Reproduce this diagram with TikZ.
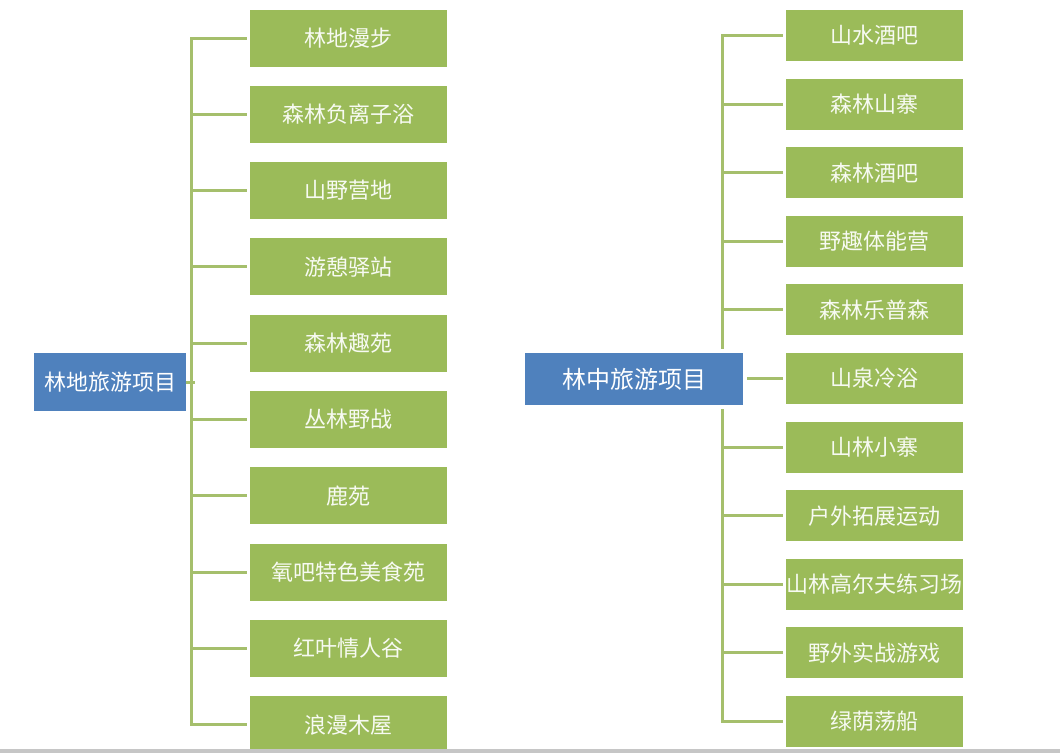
\documentclass[tikz,border=0pt]{standalone}
\usepackage{fontspec}
\setmainfont{Noto Sans CJK SC}
\definecolor{leafgreen}{HTML}{9BBB59}
\definecolor{rootblue}{HTML}{4F81BD}
\definecolor{linkgreen}{HTML}{A5BF6C}
\tikzset{
  leaf/.style={fill=leafgreen, text=white!92!leafgreen, inner sep=0pt, font=\fontsize{22}{22}\selectfont},
  rootbox/.style={fill=rootblue, text=white, inner sep=0pt, font=\fontsize{22}{22}\selectfont},
  link/.style={draw=linkgreen, line width=3pt}
}
\begin{document}
\begin{tikzpicture}[x=1pt,y=-1pt]
  \fill[white] (0,0) rectangle (1060,753);
  % left tree
  \foreach \t [count=\i] in {林地漫步,森林负离子浴,山野营地,游憩驿站,森林趣苑,丛林野战,鹿苑,氧吧特色美食苑,红叶情人谷,浪漫木屋}
    \node[leaf, minimum width=197pt, minimum height=57pt] (l\i) at (348.5,{38+76.3*(\i-1)}) {\t};
  \node[rootbox, minimum width=152pt, minimum height=58pt] (lroot) at (110,382) {林地旅游项目};
  \draw[link, shorten <=3pt, shorten >=3pt] (l1.west) -- ++(-58,0) |- (l10.west);
  \foreach \i in {2,...,9} \draw[link, shorten <=3pt] (l\i.west) -- ++(-58,0);
  \draw[link] (lroot.east) -- ++(9,0);
  % right tree
  \foreach \t [count=\i] in {山水酒吧,森林山寨,森林酒吧,野趣体能营,森林乐普森,山泉冷浴,山林小寨,户外拓展运动,山林高尔夫练习场,野外实战游戏,绿荫荡船}
    \node[leaf, minimum width=177pt, minimum height=51pt] (r\i) at (874.5,{35.5+68.6*(\i-1)}) {\t};
  \draw[link, shorten <=3pt, shorten >=3pt] (r1.west) -- ++(-63,0) |- (r11.west);
  \foreach \i in {2,...,10} \draw[link, shorten <=3pt] (r\i.west) -- ++(-63,0);
  \node[rootbox, draw=white, line width=4pt, minimum width=222pt, minimum height=56pt, font=\fontsize{24}{24}\selectfont] (rroot) at (634,379) {林中旅游项目};
  \draw[link, shorten >=3pt] (rroot.east |- r6.west) -- (r6.west);
  \fill[gray!45] (0,749) rectangle (1060,753);
\end{tikzpicture}
\end{document}
